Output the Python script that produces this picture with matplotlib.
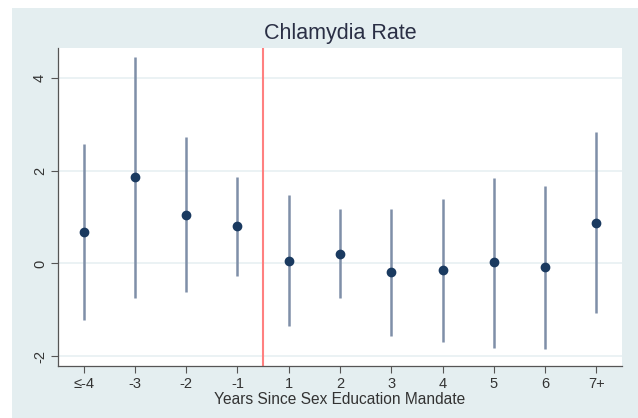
import matplotlib
matplotlib.use("Agg")
import matplotlib.pyplot as plt
from matplotlib.patches import Rectangle

plt.rcParams['font.family'] = ['Liberation Sans', 'DejaVu Sans']

categories = ["≤-4", "-3", "-2", "-1", "1", "2", "3", "4", "5", "6", "7+"]
estimates = [0.68, 1.86, 1.05, 0.80, 0.06, 0.21, -0.19, -0.15, 0.02, -0.08, 0.87]
ci_upper = [2.57, 4.45, 2.73, 1.87, 1.47, 1.17, 1.17, 1.39, 1.85, 1.66, 2.82]
ci_lower = [-1.22, -0.74, -0.62, -0.27, -1.35, -0.75, -1.56, -1.70, -1.82, -1.84, -1.06]
y_ticks = [-2, 0, 2, 4]
mandate_position = 3.5  # between "-1" and "1"

W, H = 638, 418
fig = plt.figure(figsize=(W / 100, H / 100), dpi=100)
fig.patch.set_facecolor('white')

bg = fig.add_axes([0, 0, 1, 1], zorder=-5)
bg.set_xlim(0, W)
bg.set_ylim(H, 0)
bg.axis('off')
bg.add_patch(Rectangle((12, 8), W - 12, H - 8, facecolor='#e4eef0', edgecolor='none'))

ax = fig.add_axes([58 / W, 1 - 366 / H, (622 - 58) / W, (366 - 47.5) / H], zorder=1)
ax.set_facecolor('white')
x = list(range(len(categories)))

for yt in y_ticks:
    ax.axhline(yt, color='#e8f0f2', lw=1.2, zorder=1)

ax.vlines(x, ci_lower, ci_upper, color='#7f8fa8', lw=1.8, zorder=2)
ax.plot(x, estimates, 'o', color='#1a3a60', markersize=6, zorder=3)
ax.axvline(mandate_position, color='#ff8080', lw=1.5, zorder=2)

ax.set_xlim(-0.5, 10.5)
ax.set_ylim(-2.21, 4.65)
ax.set_xticks(x)
ax.set_xticklabels(categories, fontsize=10.5, color='#333333')
ax.set_yticks(y_ticks)
ax.set_yticklabels([str(v) for v in y_ticks], fontsize=10.5, color='#333333',
                   rotation=90, va='center')
ax.tick_params(axis='both', length=5, width=0.8, color='#555555', pad=3)

for s in ['top', 'right']:
    ax.spines[s].set_visible(False)
for s in ['left', 'bottom']:
    ax.spines[s].set_color('#555555')
    ax.spines[s].set_linewidth(0.9)

ax.set_xlabel("Years Since Sex Education Mandate", fontsize=11.2, color='#333333', labelpad=1)
fig.text(340 / W, 1 - 33 / H, "Chlamydia Rate", fontsize=15.5, color='#2a2f45',
         ha='center', va='center')

fig.savefig("out.png", dpi=100)
